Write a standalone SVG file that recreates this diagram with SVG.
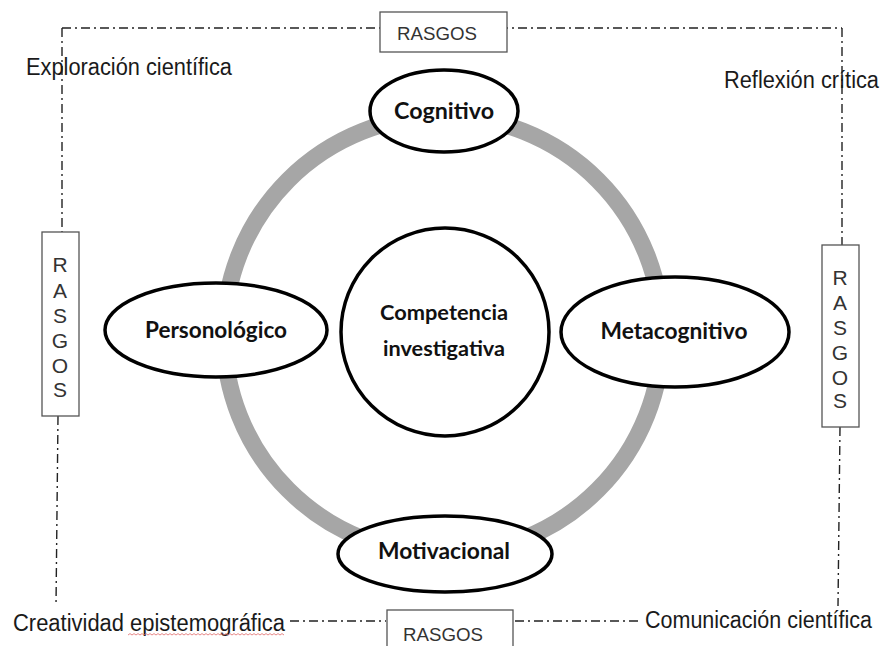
<svg xmlns="http://www.w3.org/2000/svg" width="884" height="646" viewBox="0 0 884 646">
<style>
.frame{fill:none;stroke:#222;stroke-width:1.4;stroke-dasharray:9 4 2 4}
.box{fill:#fff;stroke:#555;stroke-width:1.3}
.lbl{font-family:"Liberation Sans",Arial,sans-serif;fill:#1a1a1a}
.box-t{font-family:"Liberation Sans",Arial,sans-serif;fill:#333;font-size:19px;text-anchor:middle}
.vt{font-family:"Liberation Sans",Arial,sans-serif;fill:#333;font-size:21px;text-anchor:middle}
.node{fill:#fff;stroke:#000;stroke-width:3.5}
.nt{font-family:Lato,"Open Sans",sans-serif;font-weight:bold;fill:#111;text-anchor:middle}
</style>
<rect width="884" height="646" fill="#fff"/>
<g id="connectors">
<path class="frame" d="M62 28 H842"/>
<path class="frame" d="M62 28 V232"/>
<path class="frame" d="M58 416 L56 606"/>
<path class="frame" d="M842 28 V245"/>
<path class="frame" d="M840 427 L838 606"/>
<path class="frame" d="M290 621 H386"/>
<path class="frame" d="M515 621 H641"/>
<circle cx="443" cy="335" r="219" fill="none" stroke="#a6a6a6" stroke-width="17"/>
</g>
<g id="rasgos-top"><rect class="box" x="380" y="12" width="127" height="40"/><text class="box-t" x="437" y="40" textLength="80" lengthAdjust="spacingAndGlyphs">RASGOS</text></g>
<g id="rasgos-left"><rect class="box" x="42" y="232" width="37" height="184"/>
<text class="vt" x="60" y="272">R</text><text class="vt" x="60" y="298">A</text><text class="vt" x="60" y="323">S</text><text class="vt" x="60" y="348">G</text><text class="vt" x="60" y="373">O</text><text class="vt" x="60" y="397">S</text></g>
<g id="rasgos-right"><rect class="box" x="822" y="245" width="37" height="182"/>
<text class="vt" x="840" y="285">R</text><text class="vt" x="840" y="310">A</text><text class="vt" x="840" y="335">S</text><text class="vt" x="840" y="360">G</text><text class="vt" x="840" y="385">O</text><text class="vt" x="840" y="408">S</text></g>
<g id="rasgos-bottom"><rect class="box" x="387" y="610" width="126" height="50"/><text class="box-t" x="443" y="641" textLength="80" lengthAdjust="spacingAndGlyphs">RASGOS</text></g>
<g id="label-exploracion"><text class="lbl" x="26" y="75" font-size="23" textLength="206" lengthAdjust="spacingAndGlyphs">Exploración científica</text></g>
<g id="label-reflexion"><text class="lbl" x="724" y="88" font-size="23" textLength="155" lengthAdjust="spacingAndGlyphs">Reflexión crítica</text></g>
<g id="label-creatividad"><text class="lbl" x="13" y="631" font-size="23" textLength="272" lengthAdjust="spacingAndGlyphs">Creatividad epistemográfica</text>
<path d="M128 635 l2,-1.4 2,1.4 2,-1.4 2,1.4 2,-1.4 2,1.4 2,-1.4 2,1.4 2,-1.4 2,1.4 2,-1.4 2,1.4 2,-1.4 2,1.4 2,-1.4 2,1.4 2,-1.4 2,1.4 2,-1.4 2,1.4 2,-1.4 2,1.4 2,-1.4 2,1.4 2,-1.4 2,1.4 2,-1.4 2,1.4 2,-1.4 2,1.4 2,-1.4 2,1.4 2,-1.4 2,1.4 2,-1.4 2,1.4 2,-1.4 2,1.4 2,-1.4 2,1.4 2,-1.4 2,1.4 2,-1.4 2,1.4 2,-1.4 2,1.4 2,-1.4 2,1.4 2,-1.4 2,1.4 2,-1.4 2,1.4 2,-1.4 2,1.4 2,-1.4 2,1.4 2,-1.4 2,1.4 2,-1.4 2,1.4 2,-1.4 2,1.4 2,-1.4 2,1.4 2,-1.4 2,1.4 2,-1.4 2,1.4 2,-1.4 2,1.4 2,-1.4 2,1.4 2,-1.4 2,1.4 2,-1.4 2,1.4 2,-1.4 2,1.4" fill="none" stroke="#e06a6a" stroke-width="0.8"/></g>
<g id="label-comunicacion"><text class="lbl" x="645" y="628" font-size="23" textLength="227" lengthAdjust="spacingAndGlyphs">Comunicación científica</text></g>
<g id="node-competencia"><circle class="node" cx="445" cy="332" r="104"/>
<text class="nt" x="444" y="320" font-size="21" textLength="128" lengthAdjust="spacingAndGlyphs">Competencia</text>
<text class="nt" x="444" y="356" font-size="21" textLength="122" lengthAdjust="spacingAndGlyphs">investigativa</text></g>
<g id="node-cognitivo"><ellipse class="node" cx="444" cy="111" rx="74" ry="41"/><text class="nt" x="444" y="119" font-size="22" textLength="100" lengthAdjust="spacingAndGlyphs">Cognitivo</text></g>
<g id="node-personologico"><ellipse class="node" cx="216" cy="330" rx="111" ry="47"/><text class="nt" x="216" y="338" font-size="22" textLength="142" lengthAdjust="spacingAndGlyphs">Personológico</text></g>
<g id="node-metacognitivo"><ellipse class="node" cx="675" cy="332" rx="114" ry="55"/><text class="nt" x="674" y="339" font-size="22" textLength="147" lengthAdjust="spacingAndGlyphs">Metacognitivo</text></g>
<g id="node-motivacional"><ellipse class="node" cx="445" cy="554" rx="107" ry="38"/><text class="nt" x="444" y="559" font-size="22" textLength="132" lengthAdjust="spacingAndGlyphs">Motivacional</text></g>
</svg>
